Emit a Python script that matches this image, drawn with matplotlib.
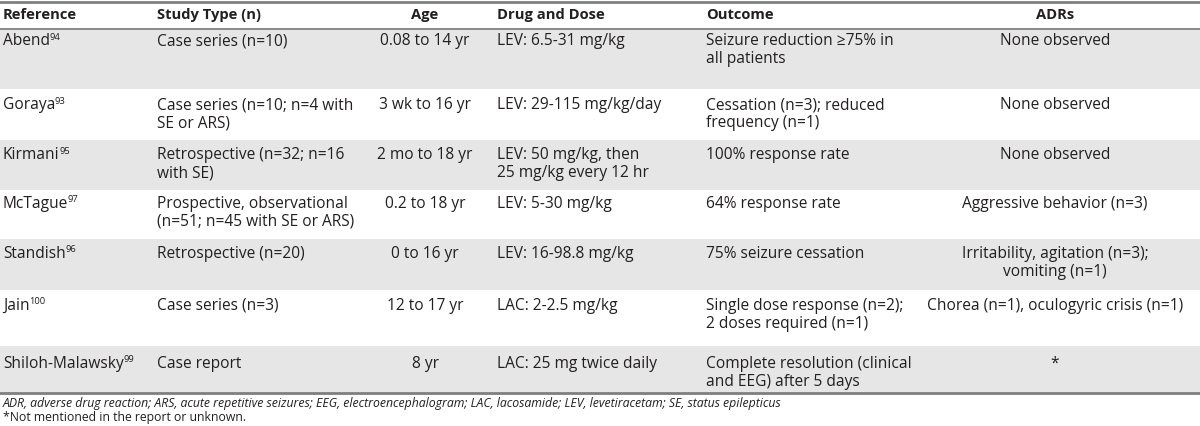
import matplotlib.pyplot as plt
from matplotlib.patches import Rectangle

# table content
headers = ["Reference", "Study Type (n)", "Age", "Drug and Dose", "Outcome", "ADRs"]
authors = ["Abend", "Goraya", "Kirmani", "McTague", "Standish", "Jain", "Shiloh-Malawsky"]
ref_nums = ["94", "93", "95", "97", "96", "100", "99"]
study_types = [
    "Case series (n=10)",
    "Case series (n=10; n=4 with\nSE or ARS)",
    "Retrospective (n=32; n=16\nwith SE)",
    "Prospective, observational\n(n=51; n=45 with SE or ARS)",
    "Retrospective (n=20)",
    "Case series (n=3)",
    "Case report",
]
ages = ["0.08 to 14 yr", "3 wk to 16 yr", "2 mo to 18 yr", "0.2 to 18 yr",
        "0 to 16 yr", "12 to 17 yr", "8 yr"]
drugs = [
    "LEV: 6.5-31 mg/kg",
    "LEV: 29-115 mg/kg/day",
    "LEV: 50 mg/kg, then\n25 mg/kg every 12 hr",
    "LEV: 5-30 mg/kg",
    "LEV: 16-98.8 mg/kg",
    "LAC: 2-2.5 mg/kg",
    "LAC: 25 mg twice daily",
]
outcomes = [
    "Seizure reduction \u226575% in\nall patients",
    "Cessation (n=3); reduced\nfrequency (n=1)",
    "100% response rate",
    "64% response rate",
    "75% seizure cessation",
    "Single dose response (n=2);\n2 doses required (n=1)",
    "Complete resolution (clinical\nand EEG) after 5 days",
]
adrs = [
    "None observed",
    "None observed",
    "None observed",
    "Aggressive behavior (n=3)",
    "Irritability, agitation (n=3);\nvomiting (n=1)",
    "Chorea (n=1), oculogyric crisis (n=1)",
    "*",
]
footnotes = [
    "ADR, adverse drug reaction; ARS, acute repetitive seizures; EEG, electroencephalogram; "
    "LAC, lacosamide; LEV, levetiracetam; SE, status epilepticus",
    "*Not mentioned in the report or unknown.",
]

# layout (pixels)
W, H = 1200, 426
header_top, header_bottom = 2, 29
row_bottoms = [89, 140, 190, 239, 290, 346, 393]
text_y = [41, 105, 155, 204, 254, 306, 364]
col_x = [3, 157, 425, 497, 706, 1055]
col_ha = ["left", "left", "center", "left", "left", "center"]
shade = "#e6e6e6"
rule = "#7f7f7f"
ink = "#231f20"
fs = 11.2
line_h = 18
font = "Open Sans"

fig = plt.figure(figsize=(W / 100, H / 100), dpi=100)
ax = fig.add_axes([0, 0, 1, 1])
ax.set_xlim(0, W)
ax.set_ylim(H, 0)
ax.axis("off")

# alternating row shading
tops = [header_bottom] + row_bottoms[:-1]
for i, (t, b) in enumerate(zip(tops, row_bottoms)):
    if i % 2 == 0:
        ax.add_patch(Rectangle((0, t), W, b - t, color=shade, lw=0))

ax.plot([0, W], [header_top, header_top], color=rule, lw=2)
ax.plot([0, W], [header_bottom, header_bottom], color=rule, lw=1.3)
ax.plot([0, W], [row_bottoms[-1], row_bottoms[-1]], color=rule, lw=2)

for x, ha, h in zip(col_x, col_ha, headers):
    ax.text(x, 15, h, ha=ha, va="center",
            fontsize=10.6, fontweight="bold", family=font, color=ink)

fig.canvas.draw()
renderer = fig.canvas.get_renderer()

cols = [study_types, ages, drugs, outcomes, adrs]
for i, y0 in enumerate(text_y):
    name = ax.text(col_x[0], y0, authors[i], ha="left", va="center",
                   fontsize=fs, family=font, color=ink)
    bb = name.get_window_extent(renderer)
    ax.text(col_x[0] + bb.width - 0.5, y0 - 4, ref_nums[i], ha="left", va="center",
            fontsize=fs * 0.6, family=font, color=ink)
    for x, ha, col in zip(col_x[1:], col_ha[1:], cols):
        for k, line in enumerate(col[i].split("\n")):
            ax.text(x, y0 + k * line_h, line, ha=ha, va="center",
                    fontsize=fs, family=font, color=ink)

ax.text(col_x[0], 404, footnotes[0], ha="left", va="center", fontsize=8.8,
        family=font, style="italic", color=ink)
ax.text(col_x[0], 418, footnotes[1], ha="left", va="center", fontsize=8.8,
        family=font, color=ink)

fig.savefig("out.png", dpi=100)
